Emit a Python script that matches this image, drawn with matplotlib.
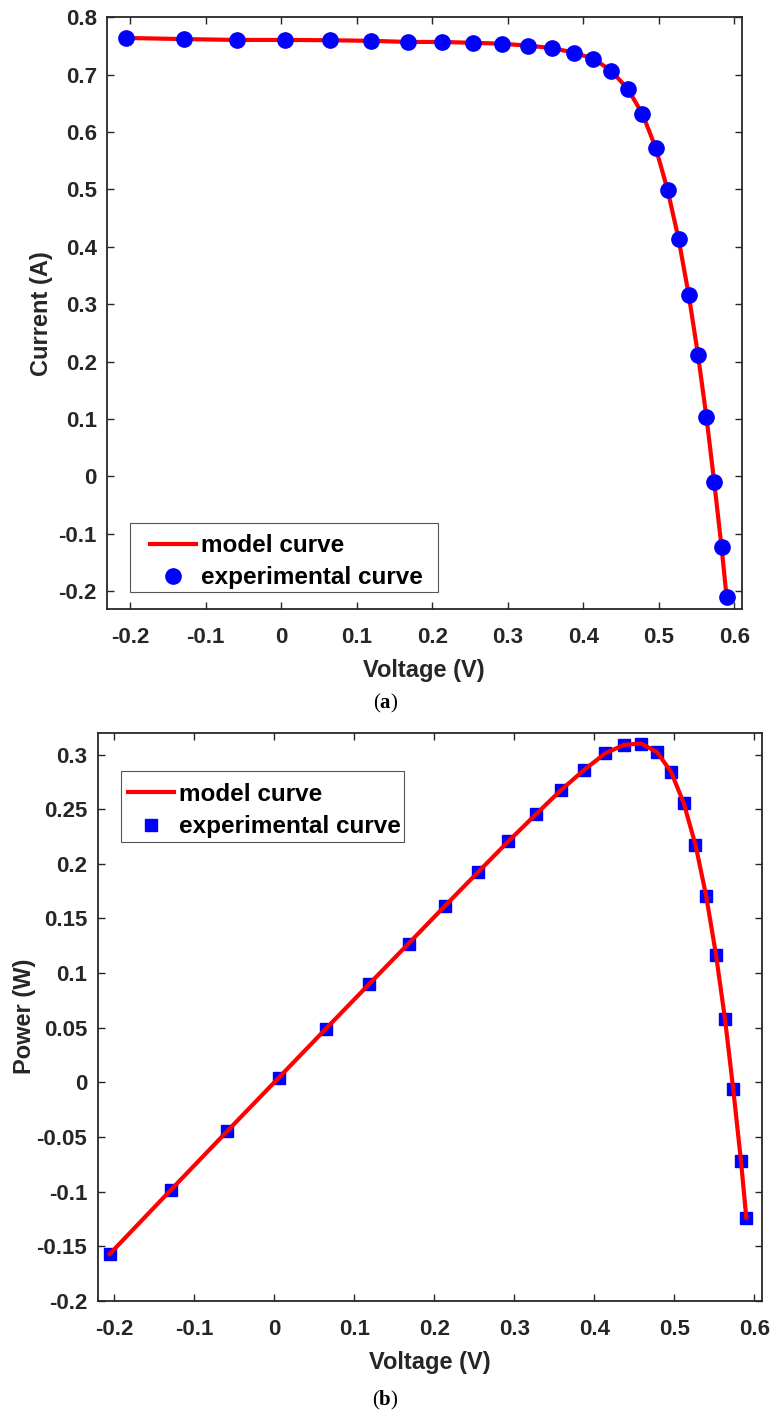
import matplotlib
matplotlib.use("Agg")
import matplotlib.pyplot as plt
from matplotlib.ticker import FuncFormatter
from matplotlib.patches import Rectangle

plt.rcParams['font.family'] = ['Liberation Sans', 'DejaVu Sans']
plt.rcParams['axes.unicode_minus'] = False
plt.rcParams['mathtext.fontset'] = 'custom'
plt.rcParams['mathtext.bf'] = 'Liberation Serif:bold'
plt.rcParams['mathtext.rm'] = 'Liberation Serif'

# measured data (voltage, current, power)
voltage = [-0.2057, -0.1291, -0.0588, 0.0057, 0.0646, 0.1185, 0.1678, 0.2132,
           0.2545, 0.2924, 0.3269, 0.3585, 0.3873, 0.4137, 0.4373, 0.4590,
           0.4784, 0.4960, 0.5119, 0.5265, 0.5398, 0.5521, 0.5633, 0.5736,
           0.5833, 0.5900]
current = [0.7640, 0.7620, 0.7605, 0.7605, 0.7600, 0.7590, 0.7570, 0.7570,
           0.7555, 0.7540, 0.7505, 0.7465, 0.7385, 0.7280, 0.7065, 0.6755,
           0.6320, 0.5730, 0.4990, 0.4130, 0.3165, 0.2120, 0.1035, -0.0100,
           -0.1230, -0.2100]
power = [-0.1572, -0.0984, -0.0447, 0.0043, 0.0491, 0.0899, 0.1270, 0.1614,
         0.1923, 0.2205, 0.2453, 0.2676, 0.2860, 0.3012, 0.3090, 0.3101,
         0.3023, 0.2842, 0.2554, 0.2174, 0.1708, 0.1170, 0.0583, -0.0057,
         -0.0717, -0.1239]

x_ticks = [-0.2, -0.1, 0, 0.1, 0.2, 0.3, 0.4, 0.5, 0.6]
i_ticks = [-0.2, -0.1, 0, 0.1, 0.2, 0.3, 0.4, 0.5, 0.6, 0.7, 0.8]
p_ticks = [-0.2, -0.15, -0.1, -0.05, 0, 0.05, 0.1, 0.15, 0.2, 0.25, 0.3]

AXC = '#262626'
FS = 16     # tick labels
LFS = 17    # axis labels
LEG = 17.5  # legend

fmt = FuncFormatter(lambda v, p: ('%g' % round(v, 3)))


def style(ax, ypad):
    for s in ax.spines.values():
        s.set_color(AXC)
        s.set_linewidth(1.3)
    ax.tick_params(direction='in', length=5, width=1, top=True, right=True,
                   colors=AXC, labelsize=FS)
    ax.tick_params(axis='x', pad=13)
    ax.tick_params(axis='y', pad=ypad)
    for lab in ax.get_xticklabels() + ax.get_yticklabels():
        lab.set_fontweight('bold')
    ax.xaxis.set_major_formatter(fmt)
    ax.yaxis.set_major_formatter(fmt)


def legend_at(ax, handles, labels, x_start, y_mid, box):
    # legend entries without frame, box drawn separately (MATLAB look)
    leg = ax.legend(handles, labels, loc='center left',
                    bbox_to_anchor=(x_start, y_mid), borderaxespad=0,
                    borderpad=0, frameon=False,
                    prop={'weight': 'bold', 'size': LEG}, handlelength=1.9,
                    labelspacing=0.38, handletextpad=0.2)
    x0, y0, x1, y1 = box
    ax.add_patch(Rectangle((x0, y0), x1 - x0, y1 - y0, transform=ax.transAxes,
                           fill=True, facecolor='white', edgecolor='#555555',
                           lw=0.8, zorder=4))
    leg.set_zorder(5)
    return leg


fig = plt.figure(figsize=(7.71, 14.16), dpi=100)

# (a) I-V
ax1 = fig.add_axes([0.1384, 0.5699, 0.8236, 0.4179])
l1, = ax1.plot(voltage, current, color='red', lw=3, label='model curve', zorder=2)
m1, = ax1.plot(voltage, current, 'o', color='blue', ms=11, mec='blue',
               label='experimental curve', zorder=3)
ax1.set_xlim(-0.231, 0.610)
ax1.set_ylim(-0.231, 0.8)
ax1.set_xticks(x_ticks)
ax1.set_yticks(i_ticks)
style(ax1, 7)
ax1.set_xlabel('Voltage (V)', fontsize=LFS, fontweight='bold', color=AXC, labelpad=8)
ax1.set_ylabel('Current (A)', fontsize=LFS, fontweight='bold', color=AXC, labelpad=4)
legend_at(ax1, [l1, m1], ['model curve', 'experimental curve'],
          0.0682, 0.080, (0.0367, 0.0287, 0.5217, 0.1453))

# (b) P-V
ax2 = fig.add_axes([0.1275, 0.0814, 0.8612, 0.4011])
m2, = ax2.plot(voltage, power, 's', color='blue', ms=9, mec='blue',
               label='experimental curve', zorder=2)
l2, = ax2.plot(voltage, power, color='red', lw=3, label='model curve', zorder=3)
ax2.set_xlim(-0.22, 0.61)
ax2.set_ylim(-0.2, 0.32)
ax2.set_xticks(x_ticks)
ax2.set_yticks(p_ticks)
style(ax2, 8)
ax2.set_xlabel('Voltage (V)', fontsize=LFS, fontweight='bold', color=AXC, labelpad=8)
ax2.set_ylabel('Power (W)', fontsize=LFS, fontweight='bold', color=AXC, labelpad=0)
legend_at(ax2, [l2, m2], ['model curve', 'experimental curve'],
          0.0449, 0.863, (0.0342, 0.8076, 0.4604, 0.9326))

fig.text(0.5, 1 - 703 / 1416, r'($\mathbf{a}$)', ha='center', va='center',
         fontsize=15, family='Liberation Serif')
fig.text(0.5, 1 - 1400 / 1416, r'($\mathbf{b}$)', ha='center', va='center',
         fontsize=15, family='Liberation Serif')

fig.savefig('out.png', dpi=100, facecolor='white')
